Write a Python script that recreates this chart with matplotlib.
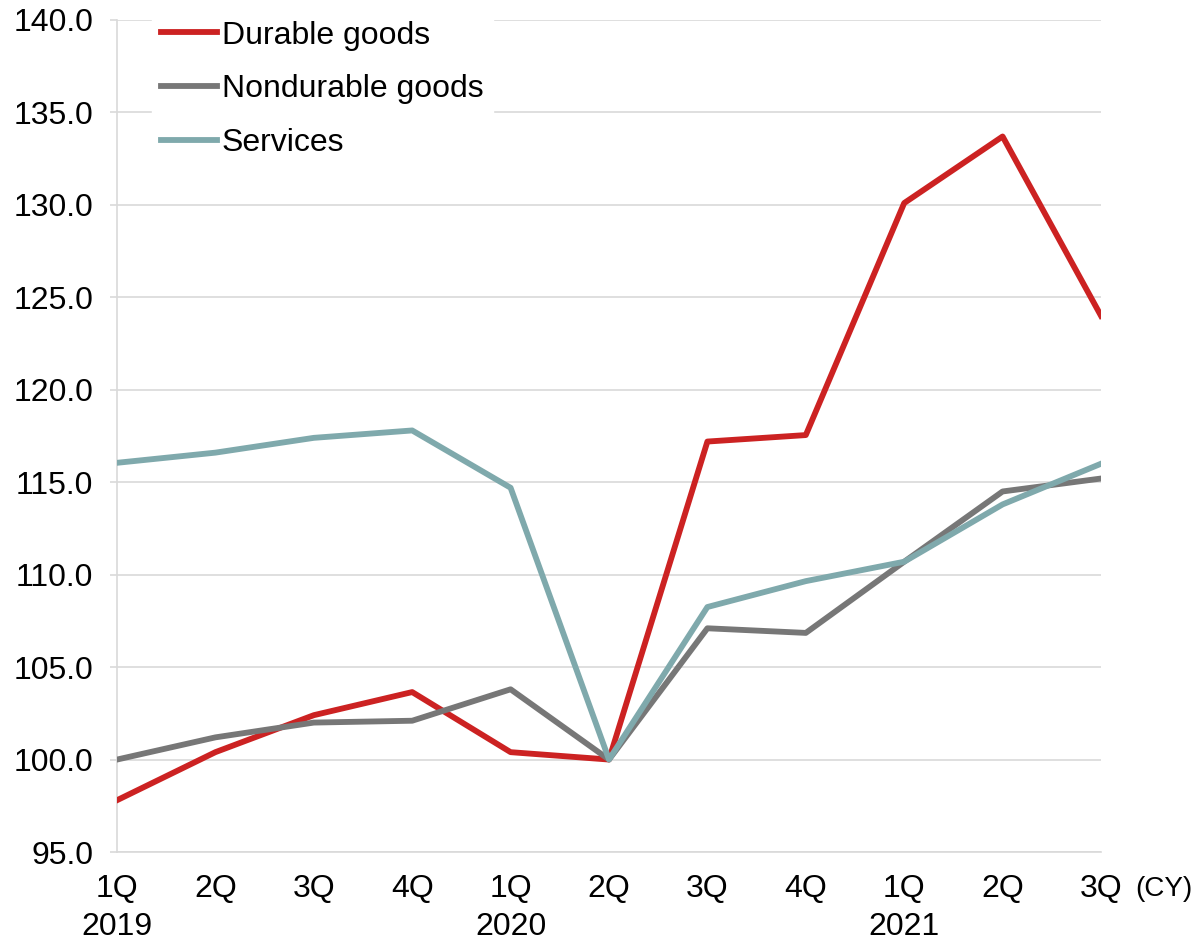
import matplotlib
matplotlib.use("Agg")
import matplotlib.pyplot as plt

plt.rcParams['font.family'] = ['Liberation Sans', 'DejaVu Sans']

quarters = ['1Q\n2019', '2Q', '3Q', '4Q', '1Q\n2020', '2Q', '3Q', '4Q', '1Q\n2021', '2Q', '3Q']
durable = [97.8, 100.4, 102.4, 103.65, 100.4, 100.0, 117.2, 117.55, 130.1, 133.7, 124.0]
nondurable = [100.0, 101.2, 102.0, 102.1, 103.8, 100.0, 107.1, 106.85, 110.7, 114.5, 115.2]
services = [116.05, 116.6, 117.4, 117.8, 114.7, 100.0, 108.25, 109.65, 110.7, 113.8, 116.0]
y_ticks = [95, 100, 105, 110, 115, 120, 125, 130, 135, 140]

fig = plt.figure(figsize=(11.96, 9.4), dpi=100)
ax = fig.add_axes([117 / 1196, 88 / 940, 984 / 1196, 832 / 940])

x = range(len(quarters))
ax.plot(x, durable, color='#CC2222', lw=4.2, label='Durable goods', zorder=3)
ax.plot(x, nondurable, color='#777777', lw=4.2, label='Nondurable goods', zorder=3)
ax.plot(x, services, color='#7FA9AC', lw=4.2, label='Services', zorder=3)

ax.set_xlim(0, len(quarters) - 1)
ax.set_ylim(95, 140)
ax.set_yticks(y_ticks)
ax.set_yticklabels([f'{v:.1f}' for v in y_ticks], fontsize=23)
ax.set_xticks(list(x))
ax.set_xticklabels(quarters, fontsize=23, linespacing=1.35)
ax.set_xticks([0, 4, 8], minor=True)

ax.grid(axis='y', color='#D9D9D9', lw=1.2, zorder=0)
for side in ['top', 'right']:
    ax.spines[side].set_visible(False)
ax.spines['left'].set_color('#D9D9D9')
ax.spines['bottom'].set_color('#D9D9D9')
ax.spines['left'].set_linewidth(1.2)
ax.spines['bottom'].set_linewidth(1.2)
ax.tick_params(axis='y', length=5, width=1.2, color='#D9D9D9', pad=12)
ax.tick_params(axis='x', which='major', length=0, pad=16)
ax.tick_params(axis='x', which='minor', length=7, width=1.2, color='#D9D9D9')

ax.text(1.035, -0.045, '(CY)', transform=ax.transAxes, fontsize=20,
        ha='left', va='center')

leg = ax.legend(loc='upper left', bbox_to_anchor=(0.019, 1.03), fontsize=23,
                frameon=True, fancybox=False, edgecolor='white', framealpha=1,
                handlelength=1.75, handletextpad=0.15, labelspacing=0.74,
                borderpad=0.3)
leg.set_zorder(5)

fig.savefig('out.png', dpi=100)
